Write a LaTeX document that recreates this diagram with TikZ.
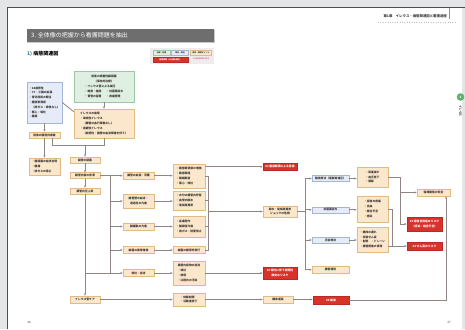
\documentclass[tikz,border=0pt]{standalone}
\usepackage{fontspec}
\newfontfamily\jp{Noto Sans CJK JP}
\usetikzlibrary{arrows.meta}
\definecolor{ofill}{HTML}{FBE8CC}
\definecolor{odraw}{HTML}{E2BB84}
\definecolor{bfill}{HTML}{E5ECF7}
\definecolor{bdraw}{HTML}{A3B6D6}
\definecolor{gfill}{HTML}{DFEFE2}
\definecolor{gdraw}{HTML}{9CC9A4}
\definecolor{rfill}{HTML}{D8332A}
\definecolor{lnc}{HTML}{8F8583}
\definecolor{txt}{HTML}{3A3330}
\definecolor{pagebg}{HTML}{E3E5E7}
\definecolor{titlebg}{HTML}{6E6E6E}
\definecolor{tabgreen}{HTML}{5DB36E}
\definecolor{pinktxt}{HTML}{E27DA5}
\tikzset{
  bx/.style={rectangle, inner sep=0.8pt, line width=0.6pt, font=\jp\bfseries\fontsize{2.8}{4.8}\selectfont, text=txt, align=center},
  ob/.style={bx, draw=odraw, fill=ofill},
  bb/.style={bx, draw=bdraw, fill=bfill},
  gb/.style={bx, draw=gdraw, fill=gfill},
  rb/.style={bx, draw=rfill!85!black, fill=rfill, text=white},
  lg/.style={font=\jp\bfseries\fontsize{1.9}{2.4}\selectfont, inner sep=0.3pt},
  ln/.style={draw=lnc, line width=0.8pt},
  ar/.style={ln, -{Stealth[length=2.4pt,width=2pt]}},
}
\begin{document}
\begin{tikzpicture}[x=1pt,y=-1pt]
\useasboundingbox (0,0) rectangle (465,329);
% page
\fill[pagebg] (0,0) rectangle (465,329);
\fill[white] (7,7) rectangle (462,329);
\draw[black!70, line width=0.9pt] (7,329) -- (7,7) -- (465,7);
% header
\node[anchor=east, font=\jp\bfseries\fontsize{3.4}{4}\selectfont, text=black!75, inner sep=0pt] (hdr) at (447,16) {第1章　イレウス・病態関連図と看護過程};
\draw[black!25, dotted, line width=0.4pt] (378,22) -- (456,22);
\draw[tabgreen, line width=1pt] (449.5,8) -- (449.5,19);
% right tab
\fill[tabgreen] (460.5,97) circle (3.8);
\node[text=white, font=\jp\bfseries\fontsize{3}{3}\selectfont, inner sep=0pt] (tabn) at (460.5,97) {1};
\node[rotate=-90, font=\jp\bfseries\fontsize{2.8}{3}\selectfont, text=black!80, inner sep=0pt] (tabt) at (460.5,111) {イレウス};
% title
\fill[black!22] (27,30) rectangle (214.5,43.2);
\fill[titlebg] (27,29) rectangle (214,42);
\node[anchor=west, text=white, font=\jp\fontsize{6}{7}\selectfont, inner sep=0pt] (title) at (31,35.5) {3. 全体像の把握から看護問題を抽出};
\node[anchor=west, font=\jp\bfseries\fontsize{5}{6}\selectfont, inner sep=0pt] (sub) at (27,53.5) {\textcolor{tabgreen!70!blue}{1)} 病態関連図};
% legend
\fill[black!7] (150,48) rectangle (214,64);
\node[gb, lg, minimum width=17pt, minimum height=5pt] (lg1) at (161.5,52.5) {治療・処置};
\node[bb, lg, minimum width=17pt, minimum height=5pt] (lg2) at (180,52.5) {既往・現症};
\node[ob, lg, minimum width=21pt, minimum height=5pt] (lg3) at (201,52.5) {病態・観察ポイント};
\node[rb, lg, minimum width=35pt, minimum height=5pt] (lg4) at (170.5,59.5) {看護問題（\#は優先順位）};
\node[lg, text=pinktxt] (lg5) at (201,59) {\#は看護問題の番号};
% upper boxes
\node[bb, align=left, minimum width=35pt, minimum height=41pt] (L) at (44.5,102.5) {・68歳男性\\・CT：小腸の拡張\\・胃切除術の既往\\・腹部膨満感\\　（排ガス・排便なし）\\・悪心・嘔吐\\・腹痛};
\node[gb, minimum width=60pt, minimum height=31pt] (G) at (104,86.5) {%
\begin{tabular}{@{}l@{\hspace{5pt}}l@{}}
\multicolumn{2}{c}{術後の癒着性腸閉塞}\\
\multicolumn{2}{c}{（保存的治療）}\\
\multicolumn{2}{@{}l}{・イレウス管による減圧}\\
・絶食・補液 & ・抗菌薬投与\\
・胃管の留置 & ・疼痛管理
\end{tabular}};
\node[ob, align=left, minimum width=60pt, minimum height=29pt] (O) at (104,123.5) {イレウスの病態\\・単純性イレウス\\　（腸管の血行障害なし）\\・複雑性イレウス\\　（絞扼性：腸管の血流障害を伴う）};
\node[ob, minimum width=31pt, minimum height=6pt] (s1) at (44.5,135) {術後の腹腔内癒着};
\node[ob, align=left, minimum width=31pt, minimum height=17pt] (s2) at (44.5,166.5) {・腸閉塞の症状出現\\・腹痛\\・排ガスの停止};
% main column
\node[ob, minimum width=30pt, minimum height=6pt] (m1) at (85,160) {腸管の閉塞};
\node[ob, minimum width=30pt, minimum height=6pt] (m2) at (85,175.7) {腸管内容の停滞};
\node[ob, minimum width=30pt, minimum height=6pt] (m3) at (85,191) {腸管内圧上昇};
\node[ob, minimum width=30pt, minimum height=7pt] (m4) at (85,299.5) {イレウス管ケア};
% column 2
\node[ob, minimum width=31pt, minimum height=7pt] (c2a) at (138.5,175.7) {腸管の拡張・浮腫};
\node[ob, minimum width=31pt, minimum height=14pt] (c2b) at (138.5,201) {腸管壁の血流・\\透過性の亢進};
\node[ob, minimum width=31pt, minimum height=7pt] (c2c) at (138.5,226.5) {腸蠕動の亢進};
\node[ob, minimum width=31pt, minimum height=6.5pt] (c2d) at (138.5,250) {細菌の異常増殖};
\node[ob, minimum width=31pt, minimum height=7.5pt] (c2e) at (138.5,273) {嘔吐・逆流};
% column 3
\node[ob, align=left, minimum width=32pt, minimum height=24pt] (c3a) at (189,176) {・腹部膨満感の増強\\・腹部膨隆\\・腸蠕動音\\・悪心・嘔吐};
\node[ob, align=left, minimum width=32pt, minimum height=19pt] (c3b) at (189,200.5) {・水分の腸管内貯留\\・血管内脱水\\・電解質異常};
\node[ob, align=left, minimum width=32pt, minimum height=21pt] (c3c) at (189,226.5) {・疝痛発作\\・腸雑音亢進\\・排ガス・排便停止};
\node[ob, minimum width=32pt, minimum height=6.5pt] (c3d) at (189,250) {細菌の腸管外移行};
\node[ob, align=left, minimum width=32pt, minimum height=24pt] (c3e) at (189,273) {腸管内容物の逆流\\・嘔吐\\・誤嚥\\・口腔内の汚染};
\node[ob, align=left, minimum width=32pt, minimum height=13pt] (c3f) at (189,299.5) {・体動制限\\・活動量低下};
% middle column
\node[rb, minimum width=34pt, minimum height=6.5pt] (r1) at (280,166.8) {\#1 腹部膨満による苦痛};
\node[ob, minimum width=34pt, minimum height=11pt] (mid) at (280,211.5) {脱水・電解質異常\\ショックの危険};
\node[rb, minimum width=34pt, minimum height=12pt] (r2) at (280,273) {\#2 嘔吐に伴う誤嚥性\\肺炎のリスク};
\node[ob, minimum width=30pt, minimum height=7pt] (b1) at (278,299.5) {離床遅延};
\node[rb, minimum width=36pt, minimum height=8pt] (rbb) at (331,300) {\#5 廃用};
% column 4
\node[bb, minimum width=37pt, minimum height=6pt] (c4a) at (330.5,178.5) {輸液療法（電解質補正）};
\node[bb, minimum width=37pt, minimum height=6pt] (c4b) at (330.5,209.8) {抗菌薬投与};
\node[bb, minimum width=37pt, minimum height=6pt] (c4c) at (330.5,240) {手術療法};
\node[ob, minimum width=37pt, minimum height=7pt] (c4d) at (330.5,269.8) {腸管壊死};
% column 5
\node[ob, align=left, minimum width=31pt, minimum height=20pt] (c5a) at (372.5,177) {・尿量減少\\・血圧低下\\・頻脈};
\node[ob, align=left, minimum width=31pt, minimum height=26pt] (c5b) at (372.5,209) {・術後の疼痛\\・出血\\・縫合不全\\・感染};
\node[ob, align=left, minimum width=31pt, minimum height=25pt] (c5c) at (372.5,239.5) {・離床の遅れ\\・術後せん妄\\・創部　・ドレーン\\・腸管癒着の再発};
% right column
\node[ob, minimum width=33pt, minimum height=7pt] (TR) at (433.5,192.5) {循環動態の安定};
\node[rb, minimum width=35pt, minimum height=14pt] (RA) at (424.5,224) {\#3 術後合併症のリスク\\（感染・縫合不全）};
\node[rb, minimum width=35pt, minimum height=8pt] (RB) at (424.5,246) {\#4 せん妄のリスク};
% page numbers
\node[font=\jp\fontsize{3}{3}\selectfont, text=black!70] (pn1) at (29,322) {46};
\node[font=\jp\fontsize{3}{3}\selectfont, text=black!70] (pn2) at (449,322) {47};
% ---- connectors ----
\coordinate (j1) at (52,145);
\coordinate (j2) at (85,145);
\coordinate (br) at (208,0);
\coordinate (bxa) at (110,0);
\coordinate (bxb) at (305,0);
\coordinate (bxc) at (400,0);
\coordinate (bxd) at (392,0);
\coordinate (rx) at (446,0);
\draw[ln] (L.east) -- ([yshift=-3pt]O.north west);
\draw[ar] (G.south) -- (O.north);
\draw[ar] (L.south -| s1.north) -- (s1.north);
\draw[ar] (s1.south) -- (s2.north);
\draw[ln] (s1.south -| j1) -- (j1) -- (j1 -| O.south) -- (O.south);
\draw[ar] (j2) -- (m1.north);
\draw[ar] (m1) -- (m2);
\draw[ar] (m2) -- (m3);
\draw[ar] (m3) -- (m4);
% branch from m2
\draw[ar] (m2.east) -- (m2.east -| c2a.west);
\draw[ln] (m2.east -| bxa) -- (c2e.west -| bxa);
\foreach \n in {c2b,c2c,c2d}{\draw[ar] (\n.west -| bxa) -- (\n.west);}
\draw[ar] (m4.north |- c2e.west) -- (c2e.west);
% col2 -> col3
\draw[ar] (c2a.east) -- (c2a.east -| c3a.west);
\draw[ar] (c2b.east) -- (c2b.east -| c3b.west);
\draw[ar] (c2c.east) -- (c2c.east -| c3c.west);
\draw[ar] (c2d.east) -- (c2d.east -| c3d.west);
\draw[ar] (c2e.east) -- (c2e.east -| c3e.west);
\draw[ar] (m4.east) -- (m4.east -| c3f.west);
% bracket to mid
\draw[ln] (c3a.east) -- (c3a.east -| br) -- (c3d.east -| br) -- (c3d.east);
\draw[ln] (c3b.east) -- (c3b.east -| br);
\draw[ln] (c3c.east) -- (c3c.east -| br);
\draw[ar] (mid.west -| br) -- (mid.west);
\draw[ar] (c3a.east |- r1.west) -- (r1.west);
\draw[ar] (c3e.east) -- (c3e.east -| r2.west);
\draw[ar] (c3f.east) -- (c3f.east -| b1.west);
\draw[ar] (b1.east) -- (b1.east -| rbb.west);
\draw[ar] (rbb.east) -- (rbb.east -| rx) -- (TR.south -| rx);
% mid -> col4
\draw[ln] (mid.east) -- (mid.east -| bxb);
\draw[ln] (c4a.west -| bxb) -- (c4d.west -| bxb);
\foreach \n in {c4a,c4b,c4c,c4d}{\draw[ar] (\n.west -| bxb) -- (\n.west);}
% col4 -> col5
\draw[ar] (c4a.east) -- (c4a.east -| c5a.west);
\draw[ar] (c4b.east) -- (c4b.east -| c5b.west);
\draw[ar] (c4c.east) -- (c4c.east -| c5c.west);
% col5 -> right
\draw[ln] (c5a.east) -- (c5a.east -| bxc) -- (RA.west -| bxc);
\draw[ar] (TR.west -| bxc) -- (TR.west);
\draw[ar] (RA.west -| bxc) -- (RA.west);
\draw[ln] (c5b.east) -- (c5b.east -| bxd) -- (RB.west -| bxd);
\draw[ar] (c5c.east |- RB.west) -- (RB.west);
\end{tikzpicture}
\end{document}
